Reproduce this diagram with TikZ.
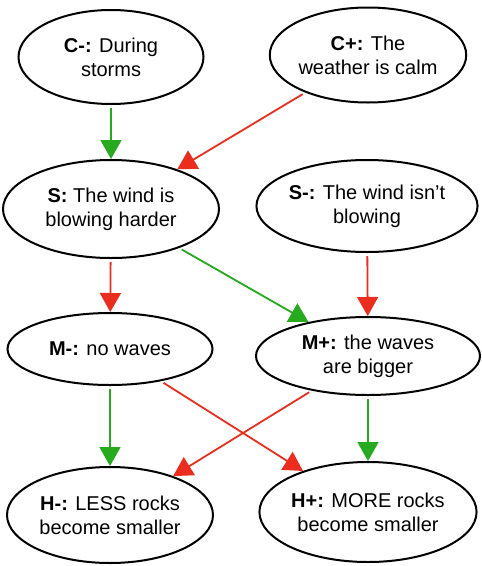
\documentclass[tikz,border=0pt]{standalone}
\usepackage{fontspec}
\setmainfont{Liberation Sans}
\usetikzlibrary{shapes.geometric,arrows.meta}
\definecolor{arrgreen}{RGB}{38,170,30}
\definecolor{arrred}{RGB}{235,45,30}
\begin{document}
\begin{tikzpicture}[x=1pt,y=-1pt,
  state/.style={ellipse,draw=black,line width=2pt,inner sep=0pt,align=center,
    font=\fontsize{20}{24}\selectfont},
  posarr/.style={draw=arrgreen,fill=none,line width=1.8pt,
    -{Triangle[length=19pt,width=21pt,fill=arrgreen]},shorten <=3pt},
  negarr/.style={draw=arrred,fill=none,line width=1.8pt,
    -{Triangle[length=19pt,width=21pt,fill=arrred]},shorten <=3pt}]
\useasboundingbox (0,0) rectangle (482,566);
\node[state,minimum width=185pt,minimum height=94pt] (cm) at (111,57) {\textbf{C-:} During\\storms};
\node[state,minimum width=193pt,minimum height=95pt] (cp) at (368,55) {\textbf{C+:} The\\weather is calm};
\node[state,minimum width=216pt,minimum height=98pt] (s) at (111,209) {\textbf{S:} The wind is\\blowing harder};
\node[state,minimum width=214pt,minimum height=92pt] (sm) at (367,206) {\textbf{S-:} The wind isn’t\\blowing};
\node[state,minimum width=205pt,minimum height=72pt] (mm) at (110,349) {\textbf{M-:} no waves};
\node[state,minimum width=224pt,minimum height=78pt] (mp) at (368,356) {\textbf{M+:} the waves\\are bigger};
\node[state,minimum width=206pt,minimum height=96pt] (hm) at (110,515) {\textbf{H-:} LESS rocks\\become smaller};
\node[state,minimum width=216pt,minimum height=100pt] (hp) at (368,512) {\textbf{H+:} MORE rocks\\become smaller};
\draw[posarr] (cm) -- (s);
\draw[negarr] (cp) -- (s);
\draw[negarr] (s) -- (mm);
\draw[posarr] (s) -- (mp);
\draw[negarr] (sm) -- (mp);
\draw[posarr] (mm) -- (hm);
\draw[negarr] (mm) -- (hp);
\draw[negarr] (mp) -- (hm);
\draw[posarr] (mp) -- (hp);
\end{tikzpicture}
\end{document}
